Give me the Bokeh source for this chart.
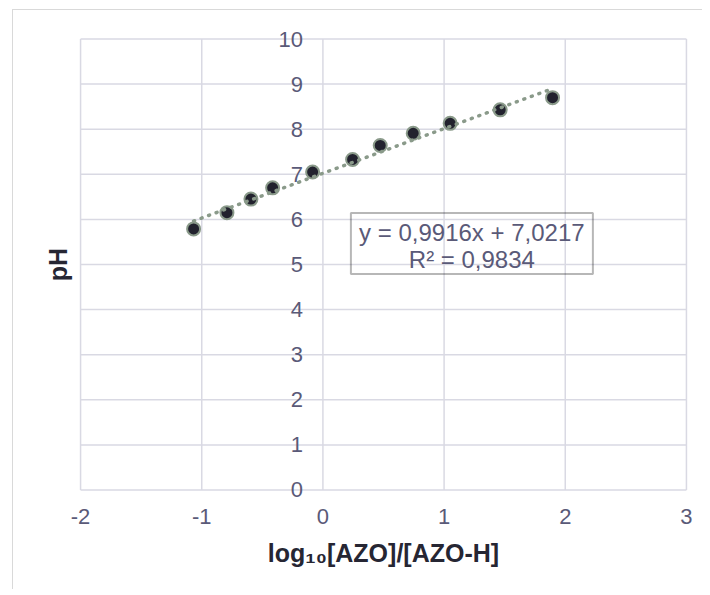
from bokeh.plotting import figure
from bokeh.models import FixedTicker, BoxAnnotation, Label, LinearAxis
from bokeh.embed import file_html
from bokeh.resources import INLINE

# ---- data ----
log_ratio = [-1.067, -0.792, -0.594, -0.415, -0.085, 0.245, 0.473, 0.745, 1.05, 1.463, 1.895]
ph = [5.79, 6.15, 6.45, 6.70, 7.05, 7.33, 7.64, 7.91, 8.13, 8.43, 8.70]
slope = 0.9916
intercept = 7.0217
r_squared = 0.9834
x_ticks = [-2, -1, 0, 1, 2, 3]
x_tick_labels = ["-2", "-1", "0", "1", "2", "3"]
y_ticks = [0, 1, 2, 3, 4, 5, 6, 7, 8, 9, 10]
y_tick_labels = ["0", "1", "2", "3", "4", "5", "6", "7", "8", "9", "10"]

FONT = "Liberation Sans"
TICK_COLOR = "#5a5a78"
TITLE_COLOR = "#262633"
GRID_COLOR = "#d9d9e3"

# small padding around the 0..10 / -2..3 plot area so that edge labels are not clipped
p = figure(width=690, height=580, x_range=(-2.05, 3.05), y_range=(-0.3, 10.3),
           output_backend="svg", toolbar_location=None,
           min_border_left=61, min_border_right=11, min_border_top=15, min_border_bottom=87)
p.margin = (9, 0, 0, 12)
p.styles = {"border-left": "1px solid #d9d9d9", "border-top": "1px solid #d9d9d9"}
p.outline_line_color = None
p.background_fill_color = "white"
p.border_fill_color = "white"
p.xgrid.visible = False
p.ygrid.visible = False

# grid lines over the 0..10 x -2..3 area
xmin, xmax = min(x_ticks), max(x_ticks)
ymin, ymax = min(y_ticks), max(y_ticks)
p.segment(x0=x_ticks, x1=x_ticks, y0=[ymin] * len(x_ticks), y1=[ymax] * len(x_ticks),
          line_color=GRID_COLOR, line_width=1.5)
p.segment(x0=[xmin] * len(y_ticks), x1=[xmax] * len(y_ticks), y0=y_ticks, y1=y_ticks,
          line_color=GRID_COLOR, line_width=1.5)

# x axis
xa = p.xaxis[0]
xa.ticker = FixedTicker(ticks=x_ticks)
xa.major_label_overrides = {t: l for t, l in zip(x_ticks, x_tick_labels)}
xa.axis_line_color = None
xa.major_tick_line_color = None
xa.minor_tick_line_color = None
xa.major_tick_out = 0
xa.major_label_standoff = 5
xa.major_label_text_font = FONT
xa.major_label_text_font_size = "22px"
xa.major_label_text_color = TICK_COLOR
xa.axis_label = "log\u2081\u2080[AZO]/[AZO-H]"
xa.axis_label_text_font = FONT
xa.axis_label_text_font_size = "25px"
xa.axis_label_text_font_style = "bold"
xa.axis_label_text_color = TITLE_COLOR
xa.axis_label_standoff = 12

# y axis title only (at the left edge)
ya = p.yaxis[0]
ya.ticker = FixedTicker(ticks=[])
ya.axis_line_color = None
ya.major_tick_line_color = None
ya.minor_tick_line_color = None
ya.major_label_text_font_size = "0px"
ya.axis_label = "pH"
ya.axis_label_text_font = FONT
ya.axis_label_text_font_size = "25px"
ya.axis_label_text_font_style = "bold"
ya.axis_label_text_color = TITLE_COLOR
ya.axis_label_standoff = 3

# y tick labels on an axis that crosses at x = 0
yticks_axis = LinearAxis(fixed_location=0, ticker=FixedTicker(ticks=y_ticks),
                         major_label_overrides={t: l for t, l in zip(y_ticks, y_tick_labels)},
                         axis_line_color=None, major_tick_line_color=None,
                         minor_tick_line_color=None, major_tick_out=0, major_tick_in=0,
                         major_label_standoff=20, major_label_text_font=FONT,
                         major_label_text_font_size="22px", major_label_text_color=TICK_COLOR)
p.add_layout(yticks_axis, "left")

# points
p.scatter(log_ratio, ph, size=13, fill_color="#22222e", line_color="#8a9a8a", line_width=2)

# trend line
tx = [min(log_ratio), max(log_ratio)]
ty = [slope * v + intercept for v in tx]
p.line(tx, ty, line_color="#8a9a8a", line_width=3.5, line_dash="1 7", line_cap="round")

# equation box
eq = ("y = %sx + %s" % (slope, intercept)).replace(".", ",")
r2 = ("R\u00b2 = %s" % r_squared).replace(".", ",")
p.add_layout(BoxAnnotation(left=0.231, right=2.228, top=6.142, bottom=4.789,
                           fill_alpha=0, line_color="#111111", line_width=2))
p.add_layout(Label(x=1.229, y=5.72, text=eq, text_align="center",
                   text_baseline="middle", text_font=FONT, text_font_size="24px",
                   text_color=TICK_COLOR))
p.add_layout(Label(x=1.229, y=5.10, text=r2, text_align="center",
                   text_baseline="middle", text_font=FONT, text_font_size="24px",
                   text_color=TICK_COLOR))

open("out.html", "w").write(file_html(p, INLINE))
